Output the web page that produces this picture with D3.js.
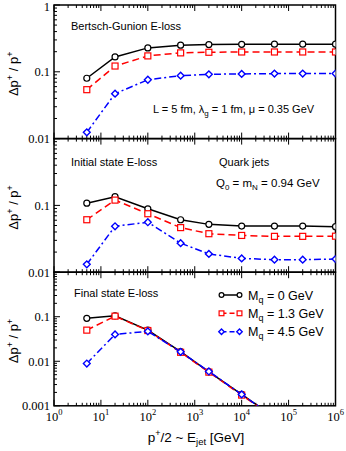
<!DOCTYPE html>
<html><head><meta charset="utf-8">
<script src="https://cdn.jsdelivr.net/npm/d3@7"></script>
<style>
html,body{margin:0;padding:0;background:#fff;}
svg{display:block;}
</style></head>
<body>
<svg id="chart" width="346" height="451"></svg>
<script>
// ---- data ----
const xValues = [5, 20, 100, 500, 2000, 10000, 50000, 200000, 1000000];
const massLabels = ["0", "1.3", "4.5"];
// Bertsch-Gunion E-loss
const bgM0   = [0.080, 0.167, 0.228, 0.250, 0.256, 0.258, 0.259, 0.259, 0.259];
const bgM13  = [0.054, 0.122, 0.173, 0.192, 0.196, 0.198, 0.198, 0.198, 0.198];
const bgM45  = [0.0124, 0.047, 0.076, 0.0875, 0.0917, 0.093, 0.094, 0.094, 0.094];
// Initial state E-loss
const isM0   = [0.108, 0.135, 0.089, 0.061, 0.052, 0.049, 0.049, 0.049, 0.048];
const isM13  = [0.061, 0.120, 0.075, 0.0465, 0.0377, 0.0355, 0.0344, 0.0344, 0.0346];
const isM45  = [0.0131, 0.0487, 0.056, 0.0272, 0.0188, 0.0161, 0.0154, 0.0154, 0.0157];
// Final state E-loss
const fsM0   = [0.092, 0.105, 0.050, 0.0164, 0.0058, 0.0018, 0.00055, 0.00019, 0.00006];
const fsM13  = [0.050, 0.103, 0.049, 0.0159, 0.0057, 0.00174, 0.00054, 0.00019, 0.00006];
const fsM45  = [0.0089, 0.040, 0.047, 0.0163, 0.0059, 0.0018, 0.00055, 0.00019, 0.00006];
const xTickExps = [0, 1, 2, 3, 4, 5, 6];

// ---- layout ----
const svg = d3.select("#chart");
const L = 54, R = 335.5, T = 5, PH = 133.6;
const sans = "'Liberation Sans', Arial, Helvetica, sans-serif";
const serif = "'Liberation Serif', 'Times New Roman', serif";

const x = d3.scaleLog().domain([1, 1e6]).range([L, R]);

const panels = [
  {name: "p1", domain: [0.01, 1], labels: [1, 0.1, 0.01], series: [bgM0, bgM13, bgM45]},
  {name: "p2", domain: [0.01, 1], labels: [0.1, 0.01], series: [isM0, isM13, isM45]},
  {name: "p3", domain: [0.001, 1], labels: [0.1, 0.01, 0.001], series: [fsM0, fsM13, fsM45]}
];

const styles = [
  {color: "#000000", dash: null, marker: "circle"},
  {color: "#ff0000", dash: "7,4", marker: "square"},
  {color: "#0000ff", dash: "7,3,2,3", marker: "diamond"}
];

function drawMarker(g, type, cx, cy, color, sc) {
  sc = sc || 1;
  if (type === "circle") {
    g.append("circle").attr("cx", cx).attr("cy", cy).attr("r", 3 * sc)
      .attr("fill", "#fff").attr("stroke", color).attr("stroke-width", 1.2);
  } else if (type === "square") {
    const h = 3 * sc;
    g.append("rect").attr("x", cx - h).attr("y", cy - h).attr("width", 2 * h).attr("height", 2 * h)
      .attr("fill", "#fff").attr("stroke", color).attr("stroke-width", 1.2);
  } else {
    const s = 3.4 * sc;
    g.append("path").attr("d", `M${cx},${cy - s}L${cx + s},${cy}L${cx},${cy + s}L${cx - s},${cy}Z`)
      .attr("fill", "#fff").attr("stroke", color).attr("stroke-width", 1.4);
  }
}

function fmt(v) { return v === 1 ? "1" : String(v); }

panels.forEach((p, i) => {
  const top = T + i * PH, bottom = top + PH;
  const y = d3.scaleLog().domain(p.domain).range([bottom, top]);
  const g = svg.append("g");

  const cid = "clip" + i;
  svg.append("clipPath").attr("id", cid).append("rect")
    .attr("x", L).attr("y", top).attr("width", R - L).attr("height", PH);

  const xMajor = xTickExps.map(e => Math.pow(10, e));
  const xMinor = [];
  for (let e = 0; e < 6; e++) for (let m = 2; m <= 9; m++) xMinor.push(m * Math.pow(10, e));
  const tg = g.append("g").attr("stroke", "#000").attr("stroke-width", 1);
  xMajor.forEach(v => {
    const px = x(v);
    tg.append("line").attr("x1", px).attr("x2", px).attr("y1", bottom).attr("y2", bottom - 6);
    tg.append("line").attr("x1", px).attr("x2", px).attr("y1", top).attr("y2", top + 6);
  });
  xMinor.forEach(v => {
    const px = x(v);
    tg.append("line").attr("x1", px).attr("x2", px).attr("y1", bottom).attr("y2", bottom - 3);
    tg.append("line").attr("x1", px).attr("x2", px).attr("y1", top).attr("y2", top + 3);
  });
  const lo = Math.round(Math.log10(p.domain[0])), hi = Math.round(Math.log10(p.domain[1]));
  for (let e = lo; e <= hi; e++) {
    const v = Math.pow(10, e);
    tg.append("line").attr("x1", L).attr("x2", L + 6).attr("y1", y(v)).attr("y2", y(v));
    if (e < hi) for (let m = 2; m <= 9; m++) {
      const vv = m * v;
      tg.append("line").attr("x1", L).attr("x2", L + 3).attr("y1", y(vv)).attr("y2", y(vv));
    }
  }
  p.labels.forEach(v => {
    const yy = Math.max(y(v), 6.5);
    g.append("text").attr("x", 50).attr("y", yy).attr("dy", "0.35em")
      .attr("text-anchor", "end").attr("font-family", serif).attr("font-size", 12.5)
      .text(fmt(v));
  });

  g.append("rect").attr("x", L).attr("y", top).attr("width", R - L).attr("height", PH)
    .attr("fill", "none").attr("stroke", "#000").attr("stroke-width", 1.5);

  const line = d3.line().x((d, j) => x(xValues[j])).y(d => y(d));
  const sg = g.append("g").attr("clip-path", `url(#${cid})`);
  p.series.forEach((vals, k) => {
    const st = styles[k];
    sg.append("path").attr("d", line(vals)).attr("fill", "none")
      .attr("stroke", st.color).attr("stroke-width", 1.5)
      .attr("stroke-dasharray", st.dash);
    vals.forEach((v, j) => {
      if (v >= p.domain[0] && v <= p.domain[1]) drawMarker(sg, st.marker, x(xValues[j]), y(v), st.color);
    });
  });

  const yt = svg.append("text").attr("transform", `translate(18,${(top + bottom) / 2 + 2}) rotate(-90)`)
    .attr("text-anchor", "middle").attr("font-family", sans).attr("font-size", 13);
  yt.append("tspan").text("\u0394p");
  yt.append("tspan").attr("dy", -5).attr("font-size", 9).text("+");
  yt.append("tspan").attr("dy", 5).text(" / p");
  yt.append("tspan").attr("dy", -5).attr("font-size", 9).text("+");
});

xTickExps.forEach(e => {
  const t = svg.append("text").attr("x", x(Math.pow(10, e))).attr("y", 421)
    .attr("text-anchor", "middle").attr("font-family", serif).attr("font-size", 12.5);
  t.append("tspan").text("10");
  t.append("tspan").attr("dy", -6).attr("font-size", 8.5).text(String(e));
});

{
  const t = svg.append("text").attr("x", 196).attr("y", 442).attr("text-anchor", "middle")
    .attr("font-family", sans).attr("font-size", 13.5);
  t.append("tspan").text("p");
  t.append("tspan").attr("dy", -6).attr("font-size", 9).text("+");
  t.append("tspan").attr("dy", 6).text("/2 ~ E");
  t.append("tspan").attr("dy", 3).attr("font-size", 9.5).text("jet");
  t.append("tspan").attr("dy", -3).text(" [GeV]");
}

function ann(xp, yp, size) {
  return svg.append("text").attr("x", xp).attr("y", yp).attr("font-family", sans).attr("font-size", size);
}
ann(71, 30, 11).text("Bertsch-Gunion E-loss");
{
  const t = ann(153, 112.5, 11);
  t.append("tspan").text("L = 5 fm, \u03bb");
  t.append("tspan").attr("dy", 3).attr("font-size", 8).text("g");
  t.append("tspan").attr("dy", -3).text(" = 1 fm, \u03bc = 0.35 GeV");
}
ann(71, 166, 11).text("Initial state E-loss");
ann(219, 166, 11).text("Quark jets");
{
  const t = ann(216, 186.5, 11.5);
  t.append("tspan").text("Q");
  t.append("tspan").attr("dy", 3).attr("font-size", 8).text("0");
  t.append("tspan").attr("dy", -3).text(" = m");
  t.append("tspan").attr("dy", 3).attr("font-size", 8).text("N");
  t.append("tspan").attr("dy", -3).text(" = 0.94 GeV");
}
ann(74, 296.5, 11).text("Final state E-loss");

const legY = [295, 313.3, 331.7];
styles.forEach((st, k) => {
  const lg = svg.append("g");
  lg.append("line").attr("x1", 221.5).attr("x2", 239.5).attr("y1", legY[k]).attr("y2", legY[k])
    .attr("stroke", st.color).attr("stroke-width", 1.5).attr("stroke-dasharray", st.dash ? "5,3" : null);
  drawMarker(lg, st.marker, 221.5, legY[k], st.color, 0.8);
  drawMarker(lg, st.marker, 239.5, legY[k], st.color, 0.8);
  const t = lg.append("text").attr("x", 248).attr("y", legY[k] + 4.5)
    .attr("font-family", sans).attr("font-size", 12.5);
  t.append("tspan").text("M");
  t.append("tspan").attr("dy", 3).attr("font-size", 9).text("q");
  t.append("tspan").attr("dy", -3).text(` = ${massLabels[k]} GeV`);
});
</script>
</body></html>
